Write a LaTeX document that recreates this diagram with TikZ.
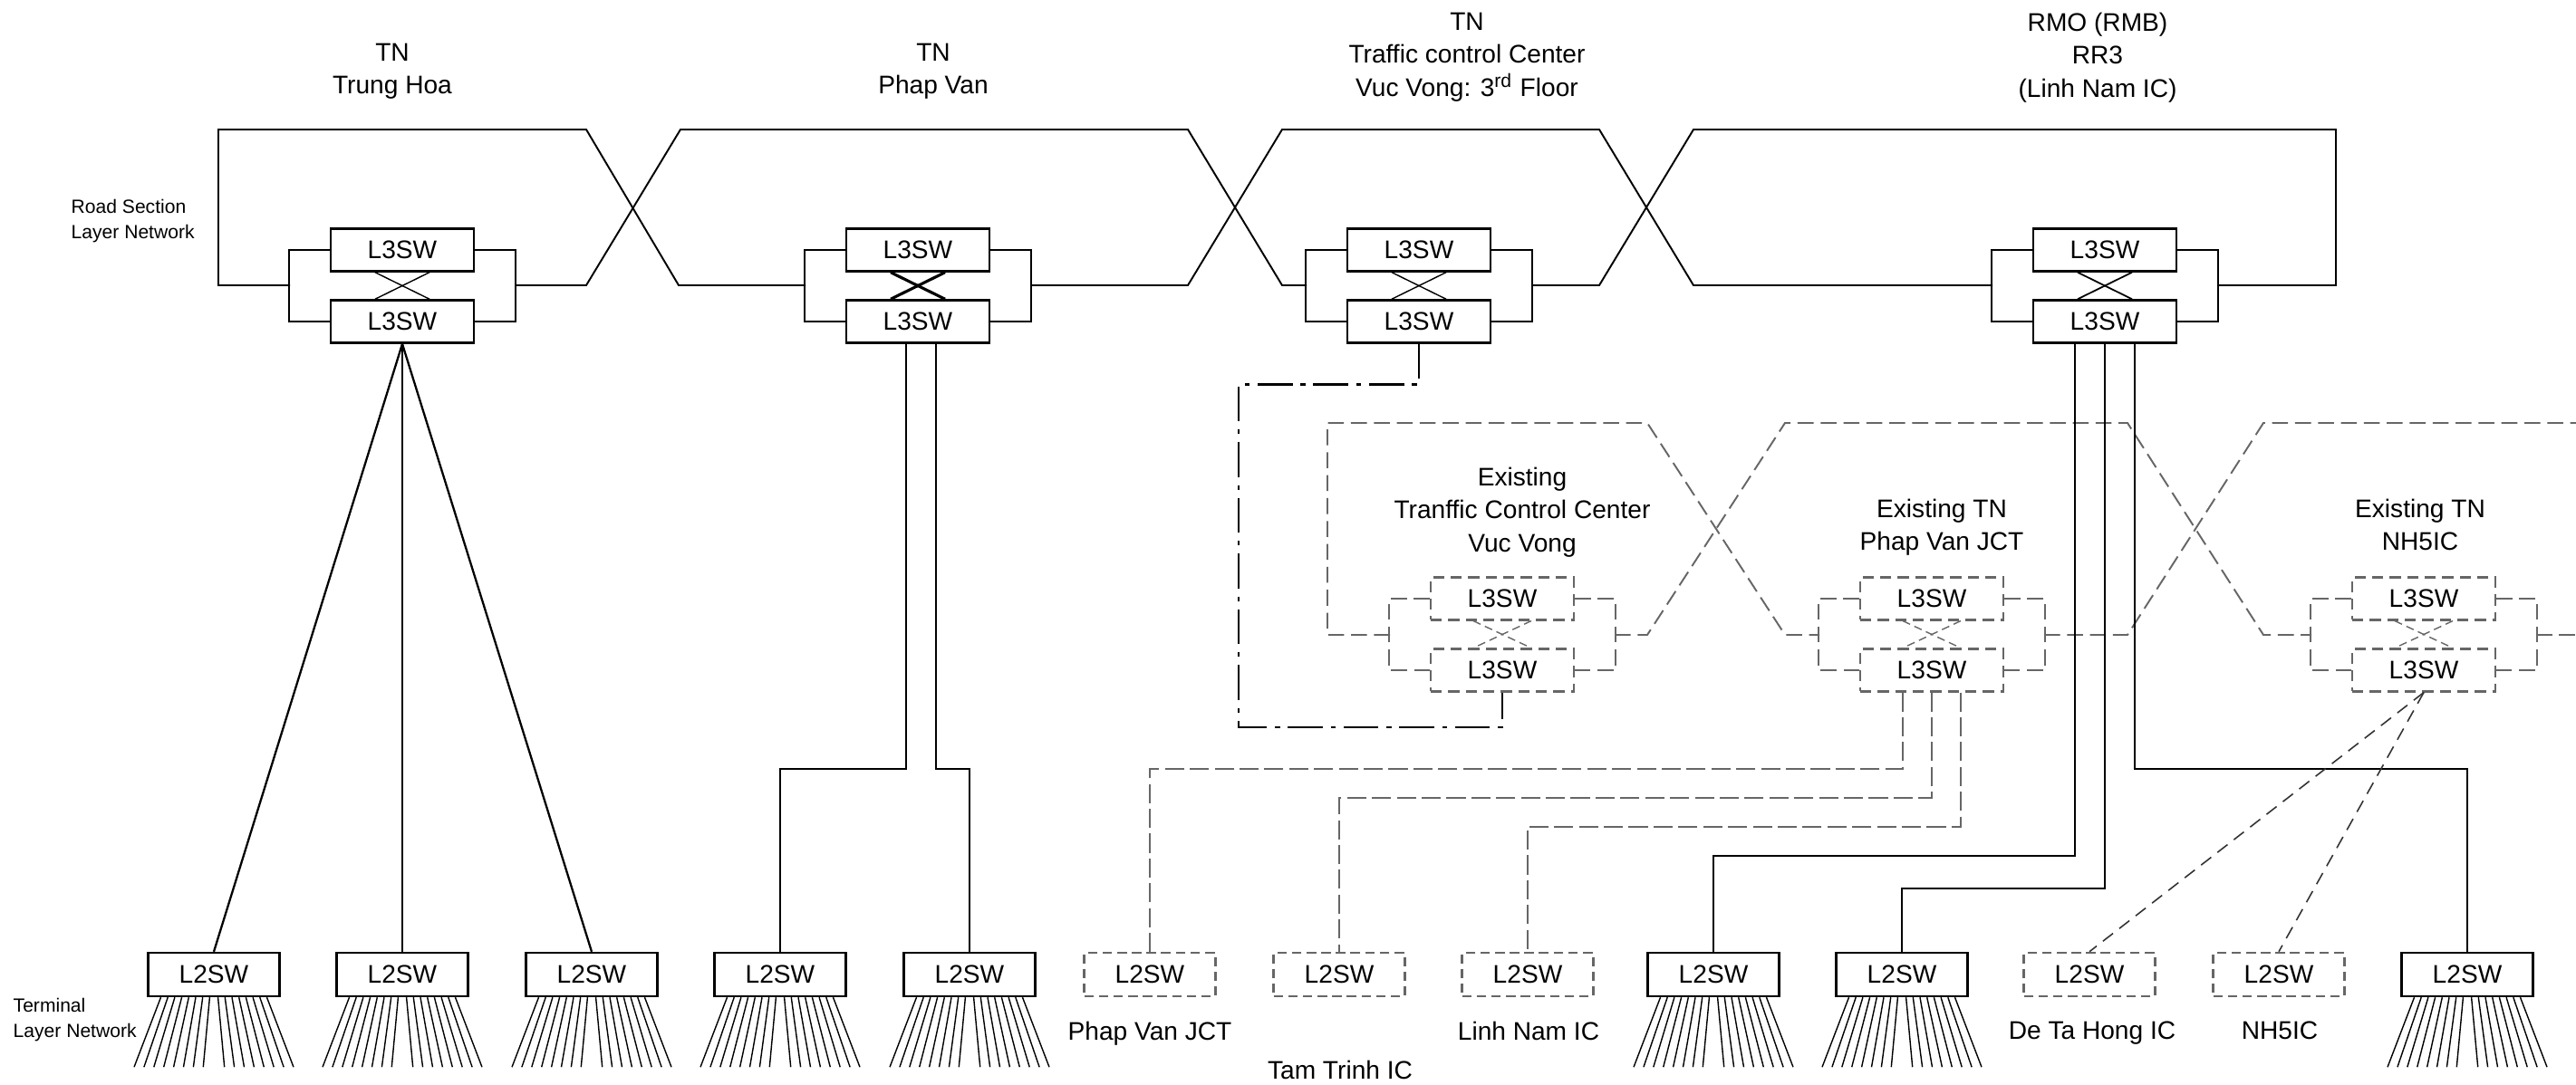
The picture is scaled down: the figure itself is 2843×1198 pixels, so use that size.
\documentclass[tikz,border=0pt]{standalone}
\usepackage{fontspec}
\setmainfont{Liberation Sans}
\definecolor{exgray}{gray}{0.4}
\tikzset{
  sw/.style={draw, line width=0.7pt, inner sep=0pt, minimum width=15.8mm, minimum height=4.7mm, font=\fontsize{8}{10}\selectfont},
  l2sw/.style={sw, minimum width=14.5mm, minimum height=4.8mm},
  exsw/.style={sw, draw=exgray, line width=0.6pt, dash pattern=on 3.5pt off 2pt},
  exl2sw/.style={l2sw, draw=exgray, dash pattern=on 3pt off 1.6pt},
  lbl/.style={align=center, inner sep=0pt, anchor=north, font=\fontsize{8}{10.5}\selectfont},
  sidelbl/.style={align=left, inner sep=0pt, anchor=north west, font=\fontsize{6}{7.7}\selectfont},
  ring/.style={line width=0.55pt},
  exring/.style={draw=exgray, line width=0.55pt, dash pattern=on 5pt off 2.2pt},
  drop/.style={line width=0.65pt},
  exdrop/.style={draw=exgray, line width=0.55pt, dash pattern=on 6pt off 1.8pt},
  fan/.style={line width=0.4pt}
}
\begin{document}
\begin{tikzpicture}[x=0.1mm, y=-0.1mm]
	\useasboundingbox (0,0) rectangle (2843,1198);
	% road section layer: L3SW pairs
	\foreach \n/\x/\w in {th/444/0.4pt, pv/1013/0.9pt, tc/1566/0.4pt, rm/2323/0.5pt}{
		\node[sw] (\n1) at (\x,276) {L3SW};
		\node[sw] (\n2) at (\x,355) {L3SW};
		\draw[ring] (\n1.west) -- ++(-45,0) |- (\n2.west);
		\draw[ring] (\n1.east) -- ++(45,0) |- (\n2.east);
		\draw[line width=\w] ([xshift=-3mm]\n1.south) -- ([xshift=3mm]\n2.north);
		\draw[line width=\w] ([xshift=3mm]\n1.south) -- ([xshift=-3mm]\n2.north);
		\coordinate (\n-w) at (\x-124,315);
		\coordinate (\n-e) at (\x+124,315);
	}
	\draw[ring] (th-w) -| (241,143) -- (647,143) -- (749,315) -- (pv-w);
	\draw[ring] (th-e) -- (647,315) -- (751,143) -- (1311,143) -- (1415,315) -- (tc-w);
	\draw[ring] (pv-e) -- (1311,315) -- (1415,143) -- (1765,143) -- (1869,315) -- (rm-w);
	\draw[ring] (tc-e) -- (1765,315) -- (1869,143) -- (2578,143) |- (rm-e);
	% existing L3SW pairs
	\foreach \n/\x in {ec/1658, ep/2132, en/2675}{
		\node[exsw] (\n1) at (\x,661) {L3SW};
		\node[exsw] (\n2) at (\x,740) {L3SW};
		\draw[exring] (\n1.west) -- ++(-45,0) |- (\n2.west);
		\draw[exring] (\n1.east) -- ++(45,0) |- (\n2.east);
		\draw[exring, line width=0.4pt, dash pattern=on 2.5pt off 1.5pt] ([xshift=-3.2mm]\n1.south) -- ([xshift=3.2mm]\n2.north);
		\draw[exring, line width=0.4pt, dash pattern=on 2.5pt off 1.5pt] ([xshift=3.2mm]\n1.south) -- ([xshift=-3.2mm]\n2.north);
		\coordinate (\n-w) at (\x-124,701);
		\coordinate (\n-e) at (\x+124,701);
	}
	\coordinate (edge-t) at (2843,467);
	\coordinate (edge-b) at (2843,701);
	\draw[exring] (ec-w) -| (1465,467) -- (1818,467) -- (1970,701) -- (ep-w);
	\draw[exring] (ec-e) -- (1818,701) -- (1970,467) -- (2348,467) -- (2498,701) -- (en-w);
	\draw[exring] (ep-e) -- (2348,701) -- (2498,467) -- (edge-t);
	\draw[exring] (en-e) -- (edge-b);
	\draw[line width=0.7pt, dash pattern=on 11pt off 2.5pt on 1.5pt off 2.5pt] (tc2.south) -- ++(0,45) -| (1367,803) -| (ec2.south);
	% terminal layer: L2SW
	\foreach \i/\x in {1/236, 2/444, 3/653, 4/861, 5/1070, 9/1891, 10/2099, 13/2723}
		\node[l2sw] (l\i) at (\x,1076) {L2SW};
	\foreach \i/\x in {6/1269, 7/1478, 8/1686, 11/2306, 12/2515}
		\node[exl2sw] (l\i) at (\x,1076) {L2SW};
	\foreach \b in {l1,l2,l3,l4,l5,l9,l10,l13}
		\foreach \i in {0,...,7}{
			\draw[fan] ([xshift={(-5.85+0.77*\i)*1mm}]\b.south) -- ++(-29.5+3.2*\i,77);
			\draw[fan] ([xshift={(5.85-0.77*\i)*1mm}]\b.south) -- ++(29.5-3.2*\i,77);
		}
	% drops
	\foreach \i in {1,2,3}
		\draw[drop] (th2.south) -- (l\i.north);
	\draw[drop] ([xshift=-1.3mm]pv2.south) -- ++(0,469) -| (l4.north);
	\draw[drop] ([xshift=2mm]pv2.south) -- ++(0,469) -| (l5.north);
	\draw[drop] ([xshift=-3.3mm]rm2.south) -- ++(0,565) -| (l9.north);
	\draw[drop] (rm2.south) -- ++(0,601) -| (l10.north);
	\draw[drop] ([xshift=3.3mm]rm2.south) -- ++(0,469) -| (l13.north);
	\draw[exdrop] ([xshift=-3.2mm]ep2.south) -- ++(0,84) -| (l6.north);
	\draw[exdrop] (ep2.south) -- ++(0,116) -| (l7.north);
	\draw[exdrop] ([xshift=3.2mm]ep2.south) -- ++(0,148) -| (l8.north);
	\draw[exdrop, draw=black!80, line width=0.45pt, dash pattern=on 4pt off 2.5pt] (en2.south) -- (l11.north);
	\draw[exdrop, draw=black!80, line width=0.45pt, dash pattern=on 4pt off 2.5pt] (en2.south) -- (l12.north);
	% labels
	\node[lbl] (thLbl) at (433,47) {TN\\Trung Hoa};
	\node[lbl] (pvLbl) at (1030,47) {TN\\Phap Van};
	\node[lbl] (tcLbl) at (1619,13) {TN\\Traffic control Center\\Vuc Vong: 3\textsuperscript{rd} Floor};
	\node[lbl] (rmLbl) at (2315,13) {RMO (RMB)\\RR3\\(Linh Nam IC)};
	\node[lbl] (ecLbl) at (1680,515) {Existing\\Tranffic Control Center\\Vuc Vong};
	\node[lbl] (epLbl) at (2143,550) {Existing TN\\Phap Van JCT};
	\node[lbl] (enLbl) at (2671,550) {Existing TN\\NH5IC};
	\node[sidelbl] (roadLbl) at (78,220) {Road Section\\Layer Network};
	\node[sidelbl] (termLbl) at (14,1102) {Terminal\\Layer Network};
	\node[lbl] (pvjLbl) at (1269,1127) {Phap Van JCT};
	\node[lbl] (ttLbl) at (1479,1170) {Tam Trinh IC};
	\node[lbl] (lnLbl) at (1687,1127) {Linh Nam IC};
	\node[lbl] (dtLbl) at (2309,1127) {De Ta Hong IC};
	\node[lbl] (nhLbl) at (2516,1127) {NH5IC};
\end{tikzpicture}
\end{document}
